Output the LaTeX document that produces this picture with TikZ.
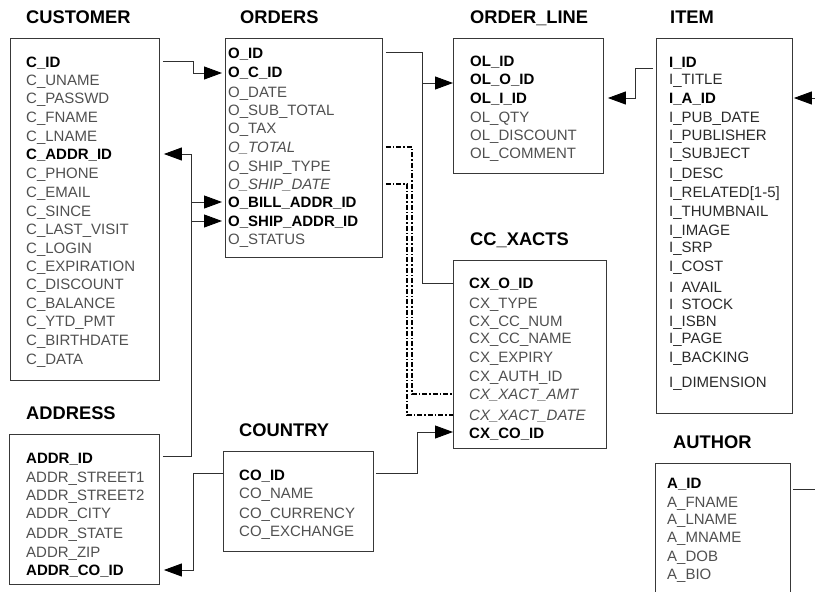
\documentclass[tikz,border=0pt]{standalone}
\usepackage{fontspec}
\setmainfont{Liberation Sans}
\usetikzlibrary{arrows.meta,calc}

\definecolor{attc}{HTML}{505050}
\definecolor{itemc}{HTML}{2A2A2A}
\definecolor{boxc}{HTML}{383838}
\definecolor{linec}{HTML}{303030}
\newcommand\fldfont{\fontsize{15}{18}\selectfont}

\tikzset{
  tbl/.style={draw=boxc, line width=0.9pt, inner sep=0, anchor=north west},
  ttl/.style={font=\fontsize{18.3}{20}\selectfont\bfseries, inner sep=0,
              text height=13pt, text depth=0pt, anchor=west},
  fbase/.style={inner sep=0, text height=11pt, text depth=0pt, anchor=west},
  key/.style={fbase, font=\fldfont\bfseries, text=black},
  att/.style={fbase, font=\fldfont, text=attc},
  iatt/.style={fbase, font=\fldfont, text=itemc},
  der/.style={fbase, font=\fldfont\itshape, text=attc},
  conn/.style={draw=linec, line width=0.9pt},
  fk/.style={conn, -{Triangle[length=18pt,width=13pt,fill=black,color=black]}},
  dd/.style={draw=black, line width=1.6pt, dash pattern=on 5pt off 2pt on 1.5pt off 2pt},
}

\begin{document}
\begin{tikzpicture}[x=1pt, y=-1pt]
\useasboundingbox (0,0) rectangle (815,592);
\clip (0,0) rectangle (815,592);

% ---------- CUSTOMER ----------
\node[ttl] (custT) at (26,17) {CUSTOMER};
\node[tbl, minimum width=149pt, minimum height=342pt] (cust) at (10,38) {};
\node[key] (cid)    at (26,62)  {C\_ID};
\node[att] (cun)    at (26,80)  {C\_UNAME};
\node[att] (cpw)    at (26,98)  {C\_PASSWD};
\node[att] (cfn)    at (26,117) {C\_FNAME};
\node[att] (cln)    at (26,136) {C\_LNAME};
\node[key] (caddr)  at (26,154) {C\_ADDR\_ID};
\node[att] (cph)    at (26,173) {C\_PHONE};
\node[att] (cem)    at (26,192) {C\_EMAIL};
\node[att] (csi)    at (26,211) {C\_SINCE};
\node[att] (clv)    at (26,229) {C\_LAST\_VISIT};
\node[att] (clo)    at (26,248) {C\_LOGIN};
\node[att] (cex)    at (26,266) {C\_EXPIRATION};
\node[att] (cdi)    at (26,284) {C\_DISCOUNT};
\node[att] (cba)    at (26,303) {C\_BALANCE};
\node[att] (cyt)    at (26,321) {C\_YTD\_PMT};
\node[att] (cbi)    at (26,340) {C\_BIRTHDATE};
\node[att] (cda)    at (26,359) {C\_DATA};

% ---------- ORDERS ----------
\node[ttl] (ordT) at (240,17) {ORDERS};
\node[tbl, minimum width=157pt, minimum height=219pt] (ord) at (225,38) {};
\node[key] (oid)   at (228,53)  {O\_ID};
\node[key] (ocid)  at (228,72)  {O\_C\_ID};
\node[att] (odt)   at (228,92)  {O\_DATE};
\node[att] (osub)  at (228,110) {O\_SUB\_TOTAL};
\node[att] (otax)  at (228,128) {O\_TAX};
\node[der] (otot)  at (228,147) {O\_TOTAL};
\node[att] (oshty) at (228,166) {O\_SHIP\_TYPE};
\node[der] (oshd)  at (228,184) {O\_SHIP\_DATE};
\node[key] (obill) at (228,202) {O\_BILL\_ADDR\_ID};
\node[key] (oship) at (228,221) {O\_SHIP\_ADDR\_ID};
\node[att] (ost)   at (228,239) {O\_STATUS};

% ---------- ORDER_LINE ----------
\node[ttl] (olT) at (470,17) {ORDER\_LINE};
\node[tbl, minimum width=150pt, minimum height=135pt] (ol) at (453,38) {};
\node[key] (olid) at (470,61)  {OL\_ID};
\node[key] (olo)  at (470,79)  {OL\_O\_ID};
\node[key] (olii) at (470,98)  {OL\_I\_ID};
\node[att] (olq)  at (470,117) {OL\_QTY};
\node[att] (old)  at (470,135) {OL\_DISCOUNT};
\node[att] (olc)  at (470,153) {OL\_COMMENT};

% ---------- ITEM ----------
\node[ttl] (itemT) at (670,17) {ITEM};
\node[tbl, minimum width=136pt, minimum height=375pt] (item) at (656,38) {};
\node[key]  (iid)   at (669,62)  {I\_ID};
\node[iatt] (itit)  at (669,79)  {I\_TITLE};
\node[key]  (iaid)  at (669,98)  {I\_A\_ID};
\node[iatt] (ipd)   at (669,117) {I\_PUB\_DATE};
\node[iatt] (ipub)  at (669,135) {I\_PUBLISHER};
\node[iatt] (isub)  at (669,153) {I\_SUBJECT};
\node[iatt] (ides)  at (669,173) {I\_DESC};
\node[iatt] (irel)  at (669,192) {I\_RELATED[1-5]};
\node[iatt] (ithu)  at (669,211) {I\_THUMBNAIL};
\node[iatt] (iimg)  at (669,230) {I\_IMAGE};
\node[iatt] (isrp)  at (669,247) {I\_SRP};
\node[iatt] (icos)  at (669,266) {I\_COST};
\node[iatt] (iav)   at (669,287) {I\phantom{\_}AVAIL};
\node[iatt] (isto)  at (669,304) {I\phantom{\_}STOCK};
\node[iatt] (iisbn) at (669,321) {I\_ISBN};
\node[iatt] (ipag)  at (669,338) {I\_PAGE};
\node[iatt] (ibak)  at (669,357) {I\_BACKING};
\node[iatt] (idim)  at (669,382) {I\_DIMENSION};

% ---------- CC_XACTS ----------
\node[ttl] (ccT) at (470,239) {CC\_XACTS};
\node[tbl, minimum width=153pt, minimum height=188pt] (cc) at (453,260) {};
\node[key] (cxo)    at (469,283) {CX\_O\_ID};
\node[att] (cxty)   at (469,303) {CX\_TYPE};
\node[att] (cxnum)  at (469,321) {CX\_CC\_NUM};
\node[att] (cxnam)  at (469,338) {CX\_CC\_NAME};
\node[att] (cxexp)  at (469,357) {CX\_EXPIRY};
\node[att] (cxau)   at (469,376) {CX\_AUTH\_ID};
\node[der] (cxamt)  at (469,394) {CX\_XACT\_AMT};
\node[der] (cxdate) at (469,415) {CX\_XACT\_DATE};
\node[key] (cxco)   at (469,433) {CX\_CO\_ID};

% ---------- ADDRESS ----------
\node[ttl] (addrT) at (26,413) {ADDRESS};
\node[tbl, minimum width=150pt, minimum height=150pt] (addr) at (9,434) {};
\node[key] (aid)   at (26,458) {ADDR\_ID};
\node[att] (ast1)  at (26,477) {ADDR\_STREET1};
\node[att] (ast2)  at (26,495) {ADDR\_STREET2};
\node[att] (acity) at (26,513) {ADDR\_CITY};
\node[att] (astat) at (26,533) {ADDR\_STATE};
\node[att] (azip)  at (26,552) {ADDR\_ZIP};
\node[key] (acoid) at (26,570) {ADDR\_CO\_ID};

% ---------- COUNTRY ----------
\node[ttl] (ctryT) at (239,430) {COUNTRY};
\node[tbl, minimum width=150pt, minimum height=100pt] (ctry) at (223,451) {};
\node[key] (coid)  at (239,475) {CO\_ID};
\node[att] (conam) at (239,493) {CO\_NAME};
\node[att] (cocur) at (239,513) {CO\_CURRENCY};
\node[att] (coex)  at (239,531) {CO\_EXCHANGE};

% ---------- AUTHOR ----------
\node[ttl] (authT) at (673,442) {AUTHOR};
\node[tbl, minimum width=135pt, minimum height=150pt] (auth) at (655,463) {};
\node[key] (aaid) at (667,483) {A\_ID};
\node[att] (afn)  at (667,502) {A\_FNAME};
\node[att] (aln)  at (667,519) {A\_LNAME};
\node[att] (amn)  at (667,537) {A\_MNAME};
\node[att] (adob) at (667,556) {A\_DOB};
\node[att] (abio) at (667,574) {A\_BIO};

% ---------- routing lanes ----------
\coordinate (lnA) at (193,0);
\coordinate (lnB) at (191,0);
\coordinate (lnC) at (422,0);
\coordinate (lnD) at (635,0);
\coordinate (lnF) at (417,0);
\coordinate (lnG) at (412,0);
\coordinate (lnH) at (407,0);
\coordinate (rim) at (815,0);

% C_ID -> O_C_ID
\coordinate (p1) at ($(cust.east|-cid)+(3,-1)$);
\coordinate (p2) at ($(ord.west|-ocid)+(-3,1)$);
\draw[fk] (p1) -- (lnA|-p1) -- (lnA|-p2) -- (p2);

% ADDR_ID -> C_ADDR_ID, O_BILL_ADDR_ID, O_SHIP_ADDR_ID
\coordinate (q0) at ($(addr.east|-aid)+(3,-2)$);
\draw[conn] (q0) -- (lnB|-q0) -- (lnB|-caddr);
\draw[fk] (lnB|-caddr) -- ($(cust.east|-caddr)+(4,0)$);
\draw[fk] (lnB|-obill) -- ($(ord.west|-obill)+(-3,0)$);
\draw[fk] (lnB|-oship) -- ($(ord.west|-oship)+(-3,0)$);

% O_ID -> OL_O_ID and CX_O_ID
\coordinate (r0) at ($(ord.east|-oid)+(3,-1)$);
\coordinate (r1) at ($(ol.west|-olo)+(0,4)$);
\draw[fk] (r0) -- (lnC|-r0) -- (lnC|-r1) -- (r1);
\draw[conn] (lnC|-r1) -- (lnC|-cxo) -- (cc.west|-cxo);

% I_ID -> OL_I_ID
\coordinate (s0) at ($(item.west|-iid)+(-3,6)$);
\coordinate (s1) at ($(ol.east|-olii)+(4,0)$);
\draw[fk] (s0) -- (lnD|-s0) -- (lnD|-s1) -- (s1);

% A_ID -> I_A_ID (routed past the right border)
\draw[fk] (rim|-iaid) -- ($(item.east|-iaid)+(1,0)$);
\coordinate (t0) at ($(auth.east|-aaid)+(2,6)$);
\draw[conn] (t0) -- (rim|-t0);

% CO_ID -> ADDR_CO_ID
\coordinate (u0) at ($(ctry.west|-coid)+(0,-2)$);
\coordinate (u1) at ($(addr.east|-acoid)+(4,0)$);
\draw[fk] (u0) -- (lnA|-u0) -- (lnA|-u1) -- (u1);

% CO_ID -> CX_CO_ID
\coordinate (v0) at ($(ctry.east|-coid)+(2,-2)$);
\coordinate (v1) at ($(cc.west|-cxco)+(0,-1)$);
\draw[fk] (v0) -- (lnF|-v0) -- (lnF|-v1) -- (v1);

% derived attributes
\draw[dd] ($(ord.east|-otot)+(3,0)$) -- (lnG|-otot) -- (lnG|-cxamt) -- (cc.west|-cxamt);
\draw[dd] ($(ord.east|-oshd)+(3,0)$) -- (lnH|-oshd) -- (lnH|-cxdate) -- (cc.west|-cxdate);
\end{tikzpicture}
\end{document}
